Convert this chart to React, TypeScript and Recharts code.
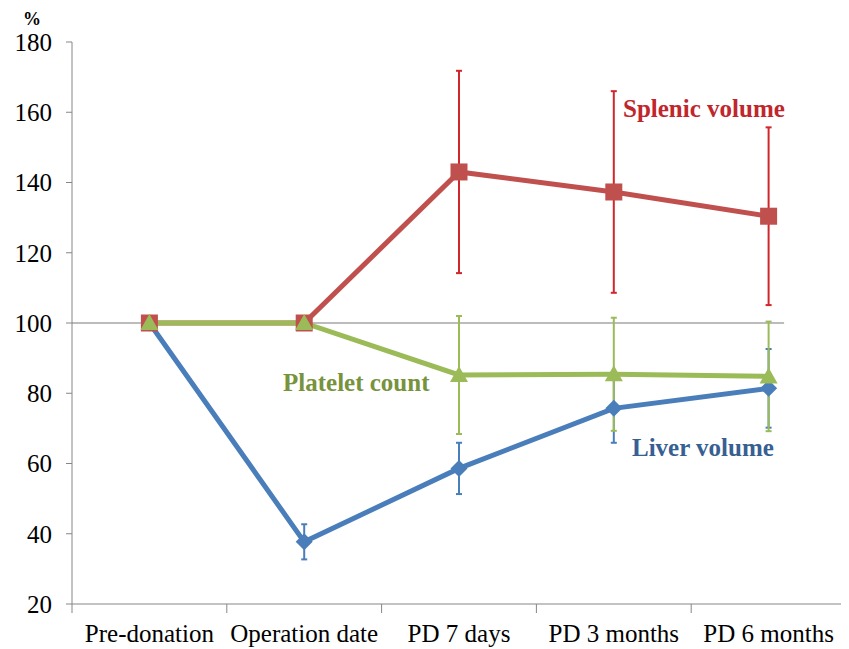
import { ErrorBar, Line, LineChart, ReferenceLine, XAxis, YAxis } from "recharts";

const categories = [
  "Pre-donation",
  "Operation date",
  "PD 7 days",
  "PD 3 months",
  "PD 6 months",
];
const splenicVolume = [100, 100, 143, 137.3, 130.4];
const splenicError = [0, 0, 28.8, 28.7, 25.3];
const plateletCount = [100, 100, 85.2, 85.4, 84.8];
const plateletError = [0, 0, 16.8, 16.1, 15.6];
const liverVolume = [100, 37.7, 58.6, 75.7, 81.4];
const liverError = [0, 5, 7.3, 9.8, 11.2];
const yTicks = [20, 40, 60, 80, 100, 120, 140, 160, 180];

const WIDTH = 841;
const HEIGHT = 641;
const MARGIN = { top: 34, right: 3, bottom: 0, left: 0 };
const X_AXIS_HEIGHT = 45;
const Y_AXIS_WIDTH = 64;
const PLOT_WIDTH = WIDTH - MARGIN.left - MARGIN.right - Y_AXIS_WIDTH;
const BAND = PLOT_WIDTH / categories.length;

const FONT = '"Liberation Serif", "Times New Roman", serif';
const AXIS = "#868686";
const RED = "#c0504d";
const RED_BAR = "#d0262c";
const GREEN = "#9bbb59";
const BLUE = "#4a7ebb";

const data = categories.map((name, i) => ({
  name,
  splenic: splenicVolume[i],
  splenicErr: splenicError[i],
  platelet: plateletCount[i],
  plateletErr: plateletError[i],
  liver: liverVolume[i],
  liverErr: liverError[i],
}));

const CategoryTick = (props: any) => {
  const { x, y, payload, index } = props;
  const half = BAND / 2;
  return (
    <g>
      <line x1={x - half} x2={x - half} y1={y} y2={y + 9} stroke={AXIS} />
      {index === categories.length - 1 && (
        <line x1={x + half} x2={x + half} y1={y} y2={y + 9} stroke={AXIS} />
      )}
      <text
        x={x}
        y={y + 38}
        textAnchor="middle"
        fill="#000"
        fontFamily={FONT}
        fontSize={25}
      >
        {payload.value}
      </text>
    </g>
  );
};

const squareDot = (props: any) => {
  const { cx, cy, index } = props;
  return (
    <rect key={`sq-${index}`} x={cx - 8.5} y={cy - 8.5} width={17} height={17} fill={RED} />
  );
};

const triangleDot = (props: any) => {
  const { cx, cy, index } = props;
  return (
    <polygon
      key={`tr-${index}`}
      points={`${cx},${cy - 9} ${cx + 9},${cy + 7} ${cx - 9},${cy + 7}`}
      fill={GREEN}
    />
  );
};

const diamondDot = (props: any) => {
  const { cx, cy, index } = props;
  return (
    <polygon
      key={`dm-${index}`}
      points={`${cx},${cy - 8.5} ${cx + 8.5},${cy} ${cx},${cy + 8.5} ${cx - 8.5},${cy}`}
      fill={BLUE}
    />
  );
};

// baseline at 100 stops a little past the last category, as in the source
const BaseLine = (props: any) => {
  const { x1, x2, y1 } = props;
  return <line x1={x1} x2={x2 - BAND * 0.4} y1={y1} y2={y1} stroke="#a6a6a6" strokeWidth={1.5} />;
};

export default function App() {
  return (
    <div style={{ position: "relative", width: WIDTH, height: HEIGHT }}>
      <LineChart width={WIDTH} height={HEIGHT} data={data} margin={MARGIN}>
        <XAxis
          dataKey="name"
          height={X_AXIS_HEIGHT}
          padding={{ left: BAND / 2, right: BAND / 2 }}
          axisLine={{ stroke: AXIS }}
          tickLine={false}
          tickSize={0}
          tickMargin={0}
          tick={<CategoryTick />}
          interval={0}
        />
        <YAxis
          width={Y_AXIS_WIDTH}
          domain={[20, 180]}
          ticks={yTicks}
          axisLine={{ stroke: AXIS }}
          tickLine={{ stroke: AXIS }}
          tickSize={6}
          tickMargin={14}
          tick={{ fill: "#000", fontFamily: FONT, fontSize: 25 }}
        />
        <ReferenceLine y={100} shape={<BaseLine />} />
        <Line
          dataKey="liver"
          stroke={BLUE}
          strokeWidth={5}
          dot={diamondDot}
          activeDot={false}
          isAnimationActive={false}
        >
          <ErrorBar dataKey="liverErr" stroke={BLUE} strokeWidth={2} width={3} />
        </Line>
        <Line
          dataKey="splenic"
          stroke={RED}
          strokeWidth={5}
          dot={squareDot}
          activeDot={false}
          isAnimationActive={false}
        >
          <ErrorBar dataKey="splenicErr" stroke={RED_BAR} strokeWidth={2} width={3} />
        </Line>
        <Line
          dataKey="platelet"
          stroke={GREEN}
          strokeWidth={5}
          dot={triangleDot}
          activeDot={false}
          isAnimationActive={false}
        >
          <ErrorBar dataKey="plateletErr" stroke={GREEN} strokeWidth={2} width={3} />
        </Line>
      </LineChart>
      <svg
        width={WIDTH}
        height={HEIGHT}
        style={{ position: "absolute", left: 0, top: 0, pointerEvents: "none" }}
      >
        <text x={24} y={17} textAnchor="middle" fontFamily={FONT} fontSize={18} fontWeight="bold">
          %
        </text>
        <text x={615} y={109} fill="#c0272d" fontFamily={FONT} fontSize={25} fontWeight="bold">
          Splenic volume
        </text>
        <text x={275} y={383} fill="#77933c" fontFamily={FONT} fontSize={25} fontWeight="bold">
          Platelet count
        </text>
        <text x={624} y={448} fill="#376092" fontFamily={FONT} fontSize={25} fontWeight="bold">
          Liver volume
        </text>
      </svg>
    </div>
  );
}
